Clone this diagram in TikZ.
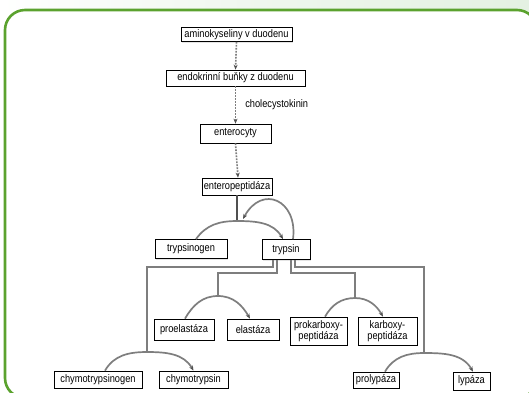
\documentclass[tikz,border=0pt]{standalone}
\usepackage{fontspec}
\setmainfont[FakeStretch=0.85]{Liberation Sans}
\usetikzlibrary{arrows.meta,shadows,calc}
\definecolor{framegreen}{HTML}{5BA22E}
\definecolor{mintbg}{HTML}{E4F1E2}
\definecolor{linegray}{HTML}{7E7E7E}
\definecolor{tipgray}{HTML}{505050}
\tikzset{
  box/.style={draw=black, line width=0.7pt, fill=white, font=\fontsize{10.9}{11}\selectfont,
    align=center, inner sep=1pt, drop shadow={shadow xshift=1pt, shadow yshift=-1pt, fill=gray!35, opacity=0.6}},
  dotarrow/.style={draw=linegray, line width=1.6pt, dash pattern=on 1.8pt off 1.2pt,
    -{Stealth[length=5pt,width=4pt,color=tipgray,fill=tipgray]}},
  branch/.style={draw=linegray, line width=1.7pt},
  reaction/.style={draw=linegray, line width=1.7pt,
    -{Stealth[length=5pt,width=4pt,color=tipgray,fill=tipgray]}},
  lbl/.style={font=\fontsize{10.9}{11}\selectfont, inner sep=0pt}
}
\begin{document}
\begin{tikzpicture}[x=1pt,y=-1pt]
\useasboundingbox (0,0) rectangle (529,392);
\begin{scope}
\clip (0,0) rectangle (529,392);
\shade[left color=white, right color=mintbg, middle color=mintbg!60!white] (0,0) rectangle (529,14);
\draw[framegreen, line width=2.6pt, fill=white, rounded corners=20pt] (5,10) rectangle (537,398);
\end{scope}

% nodes
\node[box, minimum width=111pt, minimum height=14pt] (amino) at (236.5,34.5) {aminokyseliny v duodenu};
\node[box, minimum width=139pt, minimum height=16pt] (endo) at (235.5,78) {endokrinní buňky z duodenu};
\node[box, minimum width=71pt, minimum height=19pt] (entero) at (235.5,133.5) {enterocyty};
\node[box, minimum width=70pt, minimum height=17pt] (enterop) at (237,186.5) {enteropeptidáza};
\node[box, minimum width=72pt, minimum height=19pt] (trypsinogen) at (191,249) {trypsinogen};
\node[box, minimum width=48pt, minimum height=20pt] (trypsin) at (286,249.5) {trypsin};
\node[box, minimum width=60pt, minimum height=21pt] (proelast) at (184,329.5) {proelastáza};
\node[box, minimum width=52pt, minimum height=21pt] (elast) at (253,329.5) {elastáza};
\node[box, minimum width=57pt, minimum height=28pt] (prokarb) at (318.5,331) {prokarboxy-\\peptidáza};
\node[box, minimum width=59pt, minimum height=28pt] (karb) at (387.5,331) {karboxy-\\peptidáza};
\node[box, minimum width=88pt, minimum height=17pt] (chymog) at (98,379.5) {chymotrypsinogen};
\node[box, minimum width=69pt, minimum height=17pt] (chymo) at (193.5,379.5) {chymotrypsin};
\node[box, minimum width=46pt, minimum height=16pt] (prolyp) at (376,380) {prolypáza};
\node[box, minimum width=37pt, minimum height=18pt] (lyp) at (471.5,381) {lypáza};

% top chain
\draw[dotarrow] (amino.south) -- (endo.north);
\draw[dotarrow] (endo.south) -- (entero.north) node[lbl, pos=0.5, anchor=west, xshift=9pt] (cck) {cholecystokinin};
\draw[dotarrow] (entero.south) -- ([xshift=1pt]enterop.north);

% peak coordinates
\coordinate (p0) at (237,221);
\coordinate (pc) at (147,352);
\coordinate (pe) at (218,296);
\coordinate (pk) at (355,298);
\coordinate (pl) at (424,353);

% trypsin activation
\draw[draw=tipgray, line width=1.4pt] (enterop.south) -- (p0);
\draw[reaction] ([xshift=5pt]trypsinogen.north) to[out=55,in=180] (p0) to[out=0,in=120] ([xshift=-3pt]trypsin.north);
\draw[reaction] ([xshift=7pt]trypsin.north) .. controls (298,200) and (262,184) .. ([shift={(6,-2)}]p0);

% branches from trypsin
\draw[branch] ([xshift=-13pt]trypsin.south) -- ++(0,7) -| (pc);
\draw[branch] ([xshift=-9pt]trypsin.south) -- ++(0,13) -| (pe);
\draw[branch] ([xshift=5pt]trypsin.south) -- ++(0,13) -| (pk);
\draw[branch] ([xshift=9pt]trypsin.south) -- ++(0,7) -| (pl);

% reactions
\draw[reaction] ([xshift=7pt]chymog.north) to[out=60,in=180] (pc) to[out=0,in=120] (chymo.north);
\draw[reaction] ([xshift=1pt]proelast.north) to[out=60,in=180] (pe) to[out=0,in=120] ([xshift=-3pt]elast.north);
\draw[reaction] ([xshift=6.5pt]prokarb.north) to[out=60,in=180] (pk) to[out=0,in=120] ([xshift=-4.5pt]karb.north);
\draw[reaction] ([xshift=9pt]prolyp.north) to[out=60,in=180] (pl) to[out=0,in=120] ([xshift=1.5pt]lyp.north);
\end{tikzpicture}
\end{document}
